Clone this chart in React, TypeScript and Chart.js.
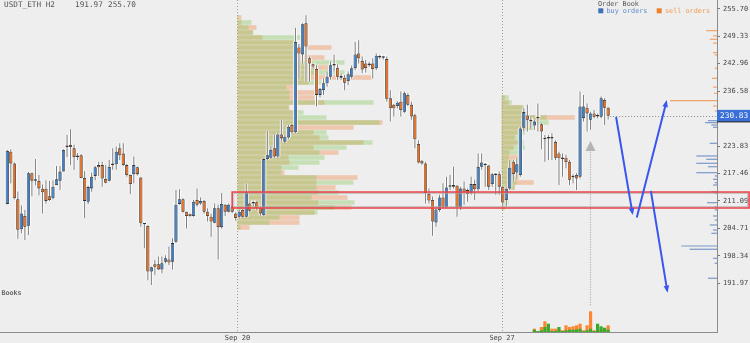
import React, { useEffect, useRef } from 'react';
import { Chart, registerables } from 'chart.js';

Chart.register(...registerables);

// ---------------- data ----------------
const SYMBOL = 'USDT_ETH';
const TIMEFRAME = 'H2';
const RANGE_LOW = 191.97;
const RANGE_HIGH = 255.7;

const OPEN = [
  210.4, 222.5, 219.8, 211.5, 204.5, 207.6, 205.3, 217.5, 215.8, 215.7,
  213.9, 213.9, 212.2, 211.7, 214.8, 215.8, 217.9, 223.6, 224.1, 223.3,
  221.5, 221.7, 216.4, 210.9, 214.0, 216.9, 219.4, 219.4, 216.2, 215.8,
  219.4, 219.6, 223.3, 222.1, 219.4, 217.1, 217.3, 218.9, 216.5, 205.8,
  205.3, 194.7, 196.4, 196.4, 195.2, 197.0, 197.5, 197.0, 201.6, 210.4,
  211.5, 208.6, 208.1, 207.6, 211.3, 210.5, 211.1, 208.6, 207.4, 206.0,
  209.4, 205.0, 210.2, 208.6, 209.8, 208.2, 207.4, 209.0, 207.4, 210.5,
  210.5, 210.8, 209.5, 207.8, 220.8, 221.1, 223.3, 221.4, 226.5, 224.8,
  225.8, 228.7, 227.0, 246.7, 245.1, 252.3, 244.2, 242.8, 241.7, 235.7,
  236.8, 238.4, 239.9, 242.6, 242.0, 240.1, 239.7, 238.9, 239.9, 241.9,
  245.3, 243.6, 243.0, 242.6, 243.0, 241.9, 244.6, 244.4, 244.0, 234.9,
  233.4, 233.1, 234.1, 231.8, 235.7, 233.4, 231.0, 224.3, 220.4, 219.8,
  212.7, 211.3, 206.1, 209.0, 211.9, 209.6, 214.4, 214.4, 214.6, 209.6,
  214.0, 213.6, 212.9, 215.0, 213.8, 219.0, 219.7, 219.3, 215.0, 217.3,
  217.3, 214.4, 211.3, 214.0, 220.2, 217.7, 217.1, 228.1, 230.9, 229.9,
  228.6, 230.3, 228.9, 225.6, 225.6, 225.6, 224.8, 222.1, 220.8, 221.1,
  220.2, 216.9, 217.1, 216.7, 230.3, 232.7, 229.9, 231.4, 230.9, 230.6,
  234.5, 232.7,
];
const HIGH = [
  222.9, 223.0, 220.0, 213.3, 210.0, 209.0, 217.8, 217.6, 220.8, 217.1,
  214.9, 215.9, 215.7, 215.9, 219.2, 219.2, 223.1, 226.4, 227.7, 224.1,
  222.2, 221.9, 218.0, 214.6, 217.6, 219.2, 220.2, 220.2, 219.4, 220.6,
  223.3, 223.7, 224.5, 224.5, 219.6, 217.2, 221.4, 219.0, 216.6, 205.9,
  205.4, 195.8, 197.4, 198.2, 198.2, 198.5, 200.5, 202.4, 213.6, 213.8,
  211.7, 208.6, 208.2, 211.3, 214.0, 211.9, 211.3, 209.4, 208.2, 210.5,
  210.2, 212.9, 210.4, 210.5, 210.0, 208.4, 209.0, 209.2, 215.2, 210.8,
  211.0, 211.0, 209.8, 221.0, 227.3, 223.8, 226.5, 227.0, 229.9, 226.5,
  228.7, 229.0, 251.3, 247.5, 252.3, 254.2, 244.6, 243.0, 242.6, 237.3,
  239.5, 241.1, 243.4, 245.0, 242.8, 240.6, 240.3, 241.1, 242.5, 248.0,
  248.4, 244.6, 243.8, 243.4, 244.2, 245.3, 245.0, 244.8, 244.6, 236.8,
  233.6, 234.2, 236.5, 236.5, 236.1, 234.1, 231.3, 225.2, 220.6, 220.2,
  214.0, 212.1, 209.8, 212.5, 215.2, 216.7, 217.1, 219.0, 214.8, 214.4,
  215.6, 214.0, 216.7, 216.0, 222.1, 222.1, 219.8, 219.4, 217.5, 217.5,
  217.9, 214.6, 214.2, 220.4, 220.6, 221.0, 228.3, 232.6, 233.4, 230.6,
  229.9, 233.7, 229.1, 226.4, 226.4, 226.8, 225.2, 222.5, 222.1, 221.8,
  220.6, 217.3, 217.5, 236.5, 235.7, 233.7, 231.8, 232.2, 231.4, 235.3,
  234.9, 232.9,
];
const LOW = [
  210.3, 215.2, 211.5, 202.3, 203.6, 202.0, 203.2, 212.2, 214.7, 212.4,
  208.2, 210.5, 211.1, 211.5, 214.8, 213.6, 217.9, 221.3, 219.4, 218.3,
  220.6, 216.4, 207.1, 210.4, 213.2, 215.9, 216.9, 214.4, 215.2, 215.6,
  218.3, 218.3, 220.6, 219.2, 216.7, 212.7, 215.2, 217.0, 205.1, 200.1,
  192.7, 191.6, 193.9, 195.1, 194.3, 196.6, 196.2, 195.1, 201.3, 210.2,
  208.4, 204.7, 207.4, 207.4, 209.8, 210.2, 208.2, 206.3, 202.8, 205.9,
  197.5, 204.7, 207.6, 208.4, 208.3, 206.5, 207.0, 207.2, 207.2, 208.5,
  209.9, 209.0, 207.6, 207.5, 220.5, 220.8, 221.0, 221.0, 225.0, 224.5,
  225.5, 226.8, 226.8, 239.5, 243.0, 238.8, 238.8, 241.8, 233.0, 235.1,
  235.7, 237.6, 239.2, 241.1, 239.2, 239.2, 236.8, 238.0, 239.5, 241.5,
  243.0, 240.7, 240.9, 242.2, 239.5, 241.5, 244.0, 243.9, 234.1, 229.5,
  230.7, 232.6, 230.7, 231.5, 233.1, 229.9, 223.3, 219.8, 219.5, 210.5,
  210.5, 203.0, 205.1, 208.6, 209.4, 209.4, 213.6, 214.0, 207.4, 209.0,
  210.2, 210.9, 212.5, 211.3, 213.2, 218.3, 214.4, 213.6, 214.4, 212.5,
  212.5, 209.8, 209.8, 213.6, 215.6, 216.6, 216.7, 227.2, 227.2, 227.9,
  227.6, 227.2, 223.1, 220.2, 220.6, 220.6, 220.6, 214.8, 216.7, 218.7,
  214.8, 215.2, 213.6, 216.3, 229.5, 227.2, 227.6, 230.3, 230.3, 230.3,
  228.7, 230.0,
];
const CLOSE = [
  222.7, 219.8, 211.7, 204.4, 208.2, 205.1, 217.5, 215.8, 216.0, 214.0,
  213.1, 211.1, 211.3, 214.4, 216.1, 217.9, 222.9, 223.7, 223.6, 221.3,
  221.3, 216.4, 211.1, 214.3, 216.7, 218.9, 218.9, 216.3, 215.3, 219.0,
  219.5, 222.5, 221.7, 219.4, 217.1, 215.0, 219.4, 217.3, 205.9, 205.7,
  194.7, 195.7, 195.8, 195.2, 196.6, 197.8, 196.8, 201.3, 210.2, 211.5,
  208.6, 207.6, 207.6, 210.9, 210.2, 211.1, 208.6, 207.6, 206.3, 209.4,
  205.0, 210.4, 208.6, 210.2, 208.6, 207.1, 208.6, 207.4, 213.1, 208.8,
  210.8, 209.4, 208.2, 220.8, 221.7, 222.9, 221.4, 226.5, 225.6, 226.0,
  228.3, 227.0, 248.0, 245.3, 252.1, 246.9, 243.0, 242.3, 235.7, 237.1,
  238.4, 239.9, 242.6, 242.5, 239.9, 239.7, 238.5, 240.5, 241.9, 245.1,
  244.2, 241.6, 241.9, 243.0, 241.7, 244.8, 244.4, 244.3, 234.8, 232.6,
  232.6, 233.9, 232.2, 236.1, 233.4, 230.7, 225.4, 220.0, 219.8, 212.9,
  211.2, 206.3, 209.1, 211.9, 209.6, 214.2, 214.6, 214.8, 209.6, 214.0,
  213.2, 212.7, 215.0, 213.8, 219.0, 220.0, 219.4, 214.4, 217.3, 217.1,
  214.4, 210.7, 213.9, 218.8, 217.3, 219.6, 227.9, 231.7, 229.9, 229.6,
  229.5, 230.6, 227.2, 225.4, 225.8, 226.0, 221.1, 221.0, 221.1, 220.1,
  216.0, 216.6, 216.3, 233.0, 233.0, 231.4, 231.4, 230.6, 230.7, 234.9,
  232.7, 230.83,
];

const X_TICK_INDEX = [65.5, 140.8];
const X_TICK_LABELS = ['Sep 20', 'Sep 27'];
const Y_TICKS = [191.97, 198.34, 204.71, 211.09, 217.46, 223.83, 230.2, 236.58, 242.96, 249.33, 255.7];

// volume profiles (price level, buy volume, sell volume)
const PROFILE1_START = 65.5;
const PROFILE1_PRICE = [
  253.66, 252.5, 251.34, 250.18, 249.02, 247.86, 246.7, 245.54, 244.38, 243.22,
  242.06, 240.9, 239.74, 238.58, 237.42, 236.25, 235.09, 233.93, 232.77, 231.61,
  230.45, 229.29, 228.13, 226.97, 225.81, 224.65, 223.49, 222.33, 221.17, 220.01,
  218.85, 217.69, 216.53, 215.37, 214.21, 213.05, 211.89, 210.73, 209.57, 208.41,
  207.25, 206.09, 204.93,
];
const PROFILE1_BUY = [
  1, 14, 11, 16, 64, 59, 57, 69, 59, 107, 77, 107, 74, 84, 49, 52, 52, 136, 51, 66,
  89, 142, 59, 89, 91, 135, 109, 82, 87, 82, 61, 44, 79, 116, 79, 101, 74, 117, 97, 80,
  42, 32, 3,
];
const PROFILE1_SELL = [
  4, 4, 19, 15, 25, 56, 94, 57, 87, 72, 94, 77, 134, 71, 59, 77, 77, 87, 52, 59,
  59, 145, 116, 76, 82, 126, 76, 101, 51, 52, 44, 47, 120, 79, 98, 81, 110, 81, 114, 77,
  62, 62, 12,
];
const PROFILE2_START = 140.7;
const PROFILE2_PRICE = [
  235.09, 233.93, 232.77, 231.61, 230.45, 229.29, 228.13, 226.97, 225.81, 224.65,
  223.49, 222.33, 221.17, 220.01, 218.85, 217.69, 216.53, 215.37, 214.21, 213.05,
  211.89, 210.73, 209.57,
];
const PROFILE2_BUY = [7, 10, 22, 22, 45, 47, 33, 23, 18, 22, 23, 17, 7, 15, 13, 17, 15, 15, 13, 7, 5, 7, 3];
const PROFILE2_SELL = [3, 7, 21, 20, 73, 37, 30, 18, 13, 19, 12, 8, 17, 10, 10, 7, 17, 32, 13, 6, 5, 3, 3];

// order book
const BOOK_SELL_PRICE = [250.6, 249.4, 248.6, 247.7, 245.5, 244.96, 241.9, 239.55, 237.5, 236.07, 234.35, 233.12, 231.96];
const BOOK_SELL_SIZE = [10.7, 4, 7.3, 4, 4, 2.3, 2.3, 5, 4, 3, 47, 4, 2.3];
const BOOK_BUY_PRICE = [
  229.71, 229.25, 228.71, 228.18, 224.46, 221.52, 220.75, 219.82, 219.03, 217.64,
  216.88, 216.11, 215.32, 214.79, 213.23, 212.86, 210.68, 209.75, 208.99, 207.59,
  206.66, 205.51, 204.34, 203.58, 200.63, 199.87, 197.78, 196.62, 193.14,
];
const BOOK_BUY_SIZE = [
  9, 12, 5.7, 4, 7.3, 20.7, 10.7, 20.7, 9, 20.7,
  2.3, 4, 2.3, 4, 5.7, 2.3, 10, 2.3, 2.3, 4,
  2.3, 7.3, 4, 5.7, 35.7, 27.3, 4, 2.3, 9,
];

// traded volume bars (last candles)
const VOL_FIRST_INDEX = 150;
const VOL_SELL = [3.3, 0.7, 5, 10.7, 3.3, 3.3, 3.3, 2.7, 1.7, 6.7, 5, 5.7, 6.7, 8.3, 1.7, 6.7, 20.7, 1.7, 5, 2.3, 2.3, 6.7];
const VOL_BUY = [2.3, 1, 1.7, 5, 8.3, 1, 1, 5, 1, 1.7, 2.3, 2.3, 2.7, 3.3, 0.7, 1.7, 3.3, 1, 8.3, 5.7, 4.3, 2.3];

// annotations (candle index, price)
const RED_BOX = { fromIndex: 64.0, toIndex: 211.1, top: 213.15, bottom: 209.45 };
const BLUE_ARROWS = [
  [173.3, 230.4, 178.0, 207.8],
  [179.2, 207.4, 187.7, 234.5],
  [183.2, 213.2, 187.9, 189.8],
];
const GRAY_ARROW = { index: 165.7, fromPrice: 186.9, toPrice: 225.0 };

// ---------------- styles ----------------
const BG = '#eeeeee';
const UP = '#3a80d0';
const DOWN = '#ec6d1c';
const MONO = '"DejaVu Sans Mono", monospace';
const X_MIN = -2.08;
const X_MAX = 201.98;
const Y_MIN = 180.67;
const Y_MAX = 257.72;
const PROFILE_SCALE = 0.2847;

function drawArrow(ctx: CanvasRenderingContext2D, x1: number, y1: number, x2: number, y2: number) {
  const a = Math.atan2(y2 - y1, x2 - x1);
  const L = 7;
  const W = 2.8;
  ctx.beginPath();
  ctx.moveTo(x1, y1);
  ctx.lineTo(x2 - 3 * Math.cos(a), y2 - 3 * Math.sin(a));
  ctx.stroke();
  ctx.beginPath();
  ctx.moveTo(x2, y2);
  ctx.lineTo(x2 - L * Math.cos(a) + W * Math.sin(a), y2 - L * Math.sin(a) - W * Math.cos(a));
  ctx.lineTo(x2 - L * Math.cos(a) - W * Math.sin(a), y2 - L * Math.sin(a) + W * Math.cos(a));
  ctx.closePath();
  ctx.fill();
}

const overlayPlugin = {
  id: 'overlay',
  beforeDraw(chart: any) {
    const { ctx } = chart;
    ctx.save();
    ctx.fillStyle = BG;
    ctx.fillRect(0, 0, chart.width, chart.height);
    ctx.restore();
  },
  afterDraw(chart: any) {
    const { ctx, chartArea } = chart;
    const xs = chart.scales.x;
    const ys = chart.scales.y;
    const px = (v: number) => xs.getPixelForValue(v);
    const py = (v: number) => ys.getPixelForValue(v);
    ctx.save();

    // last price dotted line
    const last = CLOSE.length - 1;
    const lp = py(CLOSE[last]);
    ctx.strokeStyle = '#8a8a8a';
    ctx.lineWidth = 1;
    ctx.setLineDash([1, 2]);
    ctx.beginPath();
    ctx.moveTo(px(last) + 2, Math.round(lp) + 0.5);
    ctx.lineTo(chartArea.right, Math.round(lp) + 0.5);
    ctx.stroke();

    // gray arrow
    const gx = Math.round(px(GRAY_ARROW.index)) + 0.5;
    const gTop = py(GRAY_ARROW.toPrice);
    ctx.strokeStyle = '#a8a8a8';
    ctx.lineWidth = 1.2;
    ctx.setLineDash([1, 1.5]);
    ctx.beginPath();
    ctx.moveTo(gx, py(GRAY_ARROW.fromPrice));
    ctx.lineTo(gx, gTop + 10);
    ctx.stroke();
    ctx.setLineDash([]);
    ctx.fillStyle = 'rgba(160,160,160,0.75)';
    ctx.beginPath();
    ctx.moveTo(gx, gTop);
    ctx.lineTo(gx + 5, gTop + 10);
    ctx.lineTo(gx - 5, gTop + 10);
    ctx.closePath();
    ctx.fill();

    // red box
    ctx.strokeStyle = 'rgba(170,170,170,0.6)';
    ctx.lineWidth = 1;
    const bx1 = px(RED_BOX.fromIndex);
    const bx2 = px(RED_BOX.toIndex);
    const by1 = py(RED_BOX.top);
    const by2 = py(RED_BOX.bottom);
    ctx.strokeRect(bx1 + 1.5, by1 + 1.5, bx2 - bx1 - 3, by2 - by1 - 3);
    ctx.strokeStyle = '#e9484d';
    ctx.lineWidth = 1.6;
    ctx.strokeRect(bx1, by1, bx2 - bx1, by2 - by1);

    // blue arrows
    ctx.strokeStyle = '#3a56ee';
    ctx.fillStyle = '#3a56ee';
    ctx.lineWidth = 2;
    ctx.lineCap = 'round';
    BLUE_ARROWS.forEach((a) => drawArrow(ctx, px(a[0]), py(a[1]), px(a[2]), py(a[3])));

    // price label
    const bx = chartArea.right;
    ctx.fillStyle = '#3a6fd8';
    ctx.fillRect(bx, lp - 6, chart.width - bx, 12);
    ctx.fillStyle = '#1a1a1a';
    ctx.fillRect(bx, lp + 5.5, chart.width - bx, 1);
    ctx.fillStyle = '#ffffff';
    ctx.font = '7.8px ' + MONO;
    ctx.textBaseline = 'middle';
    ctx.textAlign = 'left';
    ctx.fillText(CLOSE[last].toFixed(2), bx + 3, lp + 0.5);

    // header
    ctx.fillStyle = '#555555';
    ctx.font = '7.7px ' + MONO;
    ctx.fillText(SYMBOL + ' ' + TIMEFRAME, 4, 5);
    ctx.fillText(RANGE_LOW.toFixed(2), 75, 5);
    ctx.fillText(RANGE_HIGH.toFixed(2), 108, 5);

    // order book legend
    ctx.font = '6.8px ' + MONO;
    ctx.fillStyle = '#555555';
    ctx.fillText('Order Book', 598, 4.3);
    ctx.fillStyle = '#3f6fb5';
    ctx.fillRect(598.3, 8.3, 5, 5);
    ctx.fillStyle = '#5b8ad0';
    ctx.fillText('buy orders', 606.5, 11);
    ctx.fillStyle = '#f08030';
    ctx.fillRect(656.7, 8.3, 5, 5);
    ctx.fillStyle = '#f09a50';
    ctx.fillText('sell orders', 665, 11);

    // Books label
    ctx.fillStyle = '#666666';
    ctx.font = 'bold 6.7px ' + MONO;
    ctx.fillText('Books', 1.5, 293.3);

    ctx.restore();
  },
};

export default function App() {
  const ref = useRef<HTMLCanvasElement>(null);

  useEffect(() => {
    const idx = OPEN.map((_, i) => i);
    const wickData = idx.map((i) => ({ x: i, y: [LOW[i], HIGH[i]] }));
    const bodyData = idx.map((i) => ({ x: i, y: [Math.min(OPEN[i], CLOSE[i]), Math.max(OPEN[i], CLOSE[i])] }));
    const bodyColors = idx.map((i) => (CLOSE[i] >= OPEN[i] ? UP : DOWN));

    const profile = (start: number, prices: number[], vols: number[]) =>
      prices.map((p, k) => ({ x: [start, start + vols[k] * PROFILE_SCALE], y: p }));
    const book = (prices: number[], sizes: number[]) => prices.map((p, k) => ({ x: [0, sizes[k]], y: p }));

    const common = { grouped: false, inflateAmount: 0, borderWidth: 0, borderSkipped: false };
    const SELL_FILL = 'rgba(242,128,60,0.36)';
    const BUY_FILL = 'rgba(140,200,100,0.4)';

    const datasets: any[] = [
      { ...common, type: 'bar', indexAxis: 'y', xAxisID: 'x', yAxisID: 'y', order: 30,
        data: profile(PROFILE1_START, PROFILE1_PRICE, PROFILE1_SELL), backgroundColor: SELL_FILL, barThickness: 4.6 },
      { ...common, type: 'bar', indexAxis: 'y', xAxisID: 'x', yAxisID: 'y', order: 29,
        data: profile(PROFILE1_START, PROFILE1_PRICE, PROFILE1_BUY), backgroundColor: BUY_FILL, barThickness: 4.6 },
      { ...common, type: 'bar', indexAxis: 'y', xAxisID: 'x', yAxisID: 'y', order: 28,
        data: profile(PROFILE2_START, PROFILE2_PRICE, PROFILE2_SELL), backgroundColor: SELL_FILL, barThickness: 4.6 },
      { ...common, type: 'bar', indexAxis: 'y', xAxisID: 'x', yAxisID: 'y', order: 27,
        data: profile(PROFILE2_START, PROFILE2_PRICE, PROFILE2_BUY), backgroundColor: BUY_FILL, barThickness: 4.6 },
      { ...common, type: 'bar', indexAxis: 'y', xAxisID: 'xo', yAxisID: 'y', order: 20,
        data: book(BOOK_SELL_PRICE, BOOK_SELL_SIZE), backgroundColor: '#f2a468', barThickness: 1.2 },
      { ...common, type: 'bar', indexAxis: 'y', xAxisID: 'xo', yAxisID: 'y', order: 19,
        data: book(BOOK_BUY_PRICE, BOOK_BUY_SIZE), backgroundColor: '#7a98c8', barThickness: 1.2 },
      { ...common, type: 'bar', xAxisID: 'x', yAxisID: 'y', order: 12,
        data: wickData, backgroundColor: 'rgba(255,255,255,0.8)', barThickness: 3 },
      { ...common, type: 'bar', xAxisID: 'x', yAxisID: 'y', order: 11,
        data: bodyData, backgroundColor: 'rgba(255,255,255,0.8)', barThickness: 5, minBarLength: 3 },
      { ...common, type: 'bar', xAxisID: 'x', yAxisID: 'y', order: 10,
        data: wickData, backgroundColor: '#7c7c7c', barThickness: 1 },
      { ...common, type: 'bar', xAxisID: 'x', yAxisID: 'y', order: 9,
        data: bodyData, backgroundColor: bodyColors, borderColor: '#333333', borderWidth: 0.8, barThickness: 3.3, minBarLength: 1.5 },
      { ...common, type: 'bar', xAxisID: 'x', yAxisID: 'yv', order: 2,
        data: VOL_SELL.map((v, i) => ({ x: VOL_FIRST_INDEX + i, y: v })), backgroundColor: '#ff8630', barThickness: 3.2 },
      { ...common, type: 'bar', xAxisID: 'x', yAxisID: 'yv', order: 1,
        data: VOL_BUY.map((v, i) => ({ x: VOL_FIRST_INDEX + i, y: v })), backgroundColor: '#3aa92c', barThickness: 3.2 },
    ];

    const chart = new Chart(ref.current as HTMLCanvasElement, {
      type: 'bar',
      data: { datasets },
      options: {
        animation: false,
        responsive: false,
        devicePixelRatio: 1,
        layout: { padding: 0, autoPadding: false },
        plugins: { legend: { display: false }, tooltip: { enabled: false } },
        scales: {
          x: {
            type: 'linear',
            min: X_MIN,
            max: X_MAX,
            bounds: 'data',
            offset: false,
            position: 'bottom',
            grid: { display: true, offset: false, drawOnChartArea: true, drawTicks: false, color: '#9c9c9c', lineWidth: 1 },
            border: { display: true, color: '#8c8c8c', width: 1, dash: [1, 2] },
            ticks: {
              padding: 2,
              autoSkip: false,
              maxRotation: 0,
              color: '#444444',
              font: { family: MONO, size: 7 },
              callback: (_v: any, i: number) => X_TICK_LABELS[i] ?? '',
            },
            afterBuildTicks: (axis: any) => {
              axis.ticks = X_TICK_INDEX.map((v) => ({ value: v }));
            },
            afterFit: (axis: any) => {
              axis.height = 11;
              axis.paddingLeft = 0;
              axis.paddingRight = 0;
            },
          },
          y: {
            type: 'linear',
            position: 'right',
            min: Y_MIN,
            max: Y_MAX,
            bounds: 'data',
            offset: false,
            grid: { display: true, offset: false, drawOnChartArea: false, drawTicks: true, tickLength: 3, color: '#777777' },
            border: { display: true, color: '#8c8c8c', width: 1 },
            ticks: {
              padding: 3,
              color: '#444444',
              font: { family: MONO, size: 7 },
              callback: (v: any) => Number(v).toFixed(2),
            },
            afterBuildTicks: (axis: any) => {
              axis.ticks = Y_TICKS.map((v) => ({ value: v }));
            },
            afterFit: (axis: any) => {
              axis.width = 33;
              axis.paddingTop = 0;
              axis.paddingBottom = 0;
            },
          },
          xo: { type: 'linear', display: false, offset: false, reverse: true, min: 0, max: 717, grid: { offset: false } },
          yv: { type: 'linear', display: false, offset: false, min: 0, max: 332, grid: { offset: false } },
        },
      } as any,
      plugins: [overlayPlugin as any],
    });
    return () => chart.destroy();
  }, []);

  return (
    <div style={{ position: 'absolute', left: 0, top: 0, width: 750, height: 343, background: BG }}>
      <canvas ref={ref} width={750} height={343} style={{ display: 'block', width: 750, height: 343 }} />
    </div>
  );
}
